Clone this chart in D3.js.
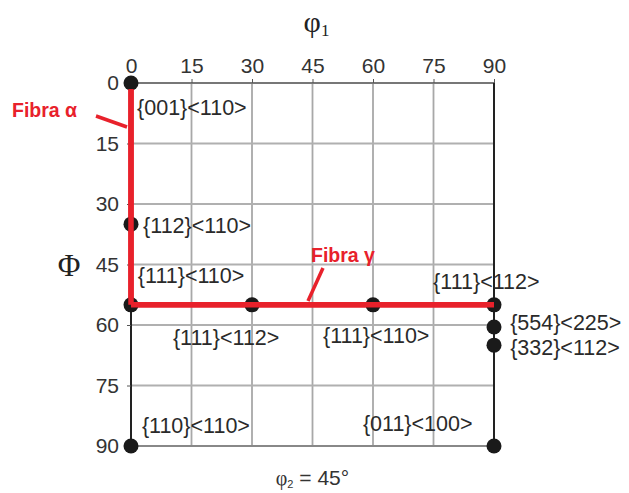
<!DOCTYPE html>
<html>
<head>
<meta charset="utf-8">
<script src="https://cdn.jsdelivr.net/npm/d3@7"></script>
<style>
  body { margin: 0; background: #fff; }
  text { font-family: "Liberation Sans", Arial, sans-serif; }
</style>
</head>
<body>
<svg width="629" height="493"></svg>
<script>
// tick values (degrees)
var ticks = [0, 15, 30, 45, 60, 75, 90];

// ideal orientations: phi1, Phi
var phi1Values = [0, 0, 0, 30, 60, 90, 90, 90, 0, 90];
var PhiValues  = [0, 35, 55, 55, 55, 55, 60.5, 65, 90, 90];

// labels next to the points (phi1, Phi of text anchor)
var labelText = ['{001}<110>', '{112}<110>', '{111}<110>', '{111}<112>', '{111}<110>',
                 '{111}<112>', '{554}<225>', '{332}<112>', '{110}<110>', '{011}<100>'];
var labelPhi1 = [1.5, 3, 1.7, 10.4, 47.6, 74.9, 94, 94, 2.7, 57.5];
var labelPhi  = [7.9, 37.2, 49.6, 65, 64.5, 51.1, 61.2, 67.4, 86.8, 86.3];

// fibres: [phi1 start, Phi start, phi1 end, Phi end]
var fibreAlpha = [0, 0, 0, 55];
var fibreGamma = [0, 55, 90, 55];

var svg = d3.select('svg');

var x = d3.scaleLinear().domain([0, 90]).range([131, 494]);
var y = d3.scaleLinear().domain([0, 90]).range([83, 446]);

// grid
var grid = svg.append('g').attr('id', 'grid');
grid.selectAll('line.v')
    .data(ticks.slice(1, -1))
    .enter()
    .append('line')
        .attr('x1', d => x(d)).attr('x2', d => x(d))
        .attr('y1', y(0)).attr('y2', y(90))
        .attr('stroke', '#a8a8a8').attr('stroke-width', 1.8);
grid.selectAll('line.h')
    .data(ticks.slice(1, -1))
    .enter()
    .append('line')
        .attr('y1', d => y(d)).attr('y2', d => y(d))
        .attr('x1', x(0)).attr('x2', x(90))
        .attr('stroke', '#b0b0b0').attr('stroke-width', 1.8);

// frame: top/bottom grey, sides black
grid.append('line')
    .attr('x1', x(0)).attr('x2', x(90)).attr('y1', y(0)).attr('y2', y(0))
    .attr('stroke', '#777').attr('stroke-width', 2);
grid.append('line')
    .attr('x1', x(0)).attr('x2', x(90)).attr('y1', y(90)).attr('y2', y(90))
    .attr('stroke', '#888').attr('stroke-width', 2);
grid.append('line')
    .attr('x1', x(0)).attr('x2', x(0)).attr('y1', y(0)).attr('y2', y(90))
    .attr('stroke', '#222').attr('stroke-width', 2);
grid.append('line')
    .attr('x1', x(90)).attr('x2', x(90)).attr('y1', y(0)).attr('y2', y(90))
    .attr('stroke', '#222').attr('stroke-width', 2);

// axes
var xAxis = d3.axisTop(x).tickValues(ticks).tickSize(4).tickPadding(6);
var yAxis = d3.axisLeft(y).tickValues(ticks).tickSize(4).tickPadding(8);

svg.append('g')
    .attr('transform', 'translate(0,' + y(0) + ')')
    .call(xAxis)
    .call(g => g.select('.domain').remove())
    .call(g => g.selectAll('line').attr('stroke', '#555'))
    .selectAll('text')
        .attr('font-size', 21).attr('fill', '#333')
        .attr('font-family', '"Liberation Sans", Arial, sans-serif');

svg.append('g')
    .attr('transform', 'translate(' + x(0) + ',0)')
    .call(yAxis)
    .call(g => g.select('.domain').remove())
    .call(g => g.selectAll('line').attr('stroke', '#555'))
    .selectAll('text')
        .attr('font-size', 21).attr('fill', '#333')
        .attr('font-family', '"Liberation Sans", Arial, sans-serif');

// axis titles
svg.append('text')
    .attr('x', x(45) + 4).attr('y', 32)
    .attr('text-anchor', 'middle')
    .style('font-family', '"Liberation Serif", "DejaVu Serif", serif')
    .attr('font-size', 30).attr('fill', '#222')
    .html('φ<tspan font-size="17" dy="4">1</tspan>');

svg.append('text')
    .attr('x', 69).attr('y', y(45) + 11)
    .attr('text-anchor', 'middle')
    .style('font-family', '"Liberation Serif", "DejaVu Serif", serif')
    .attr('font-size', 31).attr('fill', '#222')
    .text('Φ');

svg.append('text')
    .attr('x', x(45)).attr('y', 485)
    .attr('text-anchor', 'middle')
    .style('font-family', '"Liberation Sans", Arial, sans-serif')
    .attr('font-size', 21).attr('fill', '#333')
    .html('<tspan style="font-family:\'Liberation Serif\', serif" font-size="20">φ</tspan><tspan font-size="11" dy="3">2</tspan><tspan dy="-3"> = 45°</tspan>');

// fibres
var red = '#e8212b';
var fibres = svg.append('g');
fibres.selectAll('line')
    .data([fibreAlpha, fibreGamma])
    .enter()
    .append('line')
        .attr('x1', f => x(f[0])).attr('y1', f => y(f[1]))
        .attr('x2', f => x(f[2])).attr('y2', f => y(f[3]))
        .attr('stroke', red).attr('stroke-width', 5.5)
        .attr('stroke-linecap', 'square');

// points
svg.append('g')
    .selectAll('circle')
    .data(phi1Values.map((d, i) => ({ phi1: d, Phi: PhiValues[i] })))
    .enter()
    .append('circle')
        .attr('cx', d => x(d.phi1))
        .attr('cy', d => y(d.Phi))
        .attr('r', 7.5)
        .attr('fill', '#1a1a1a');

// fibres again over the dots, as in the original
svg.append('g')
    .selectAll('line')
    .data([fibreAlpha, fibreGamma])
    .enter()
    .append('line')
        .attr('x1', f => x(f[0])).attr('y1', (f, i) => y(f[1]) + (i === 0 ? 6 : 0))
        .attr('x2', f => x(f[2])).attr('y2', f => y(f[3]))
        .attr('stroke', red).attr('stroke-width', 5.5);

// orientation labels
svg.append('g')
    .selectAll('text')
    .data(labelText)
    .enter()
    .append('text')
        .attr('x', (d, i) => x(labelPhi1[i]))
        .attr('y', (d, i) => y(labelPhi[i]))
        .attr('font-size', 21.5)
        .attr('fill', '#2a2a2a')
        .text(d => d);

// fibre labels and pointers
svg.append('text')
    .attr('x', 12).attr('y', 117)
    .attr('font-size', 19.5).attr('font-weight', 'bold').attr('fill', red)
    .text('Fibra α');
svg.append('line')
    .attr('x1', 96).attr('y1', 116).attr('x2', 127).attr('y2', 127)
    .attr('stroke', red).attr('stroke-width', 3.5);

svg.append('text')
    .attr('x', 311).attr('y', 262)
    .attr('font-size', 19.5).attr('font-weight', 'bold').attr('fill', red)
    .text('Fibra γ');
svg.append('line')
    .attr('x1', 323).attr('y1', 268).attr('x2', 308).attr('y2', 301)
    .attr('stroke', red).attr('stroke-width', 3.5);
</script>
</body>
</html>
